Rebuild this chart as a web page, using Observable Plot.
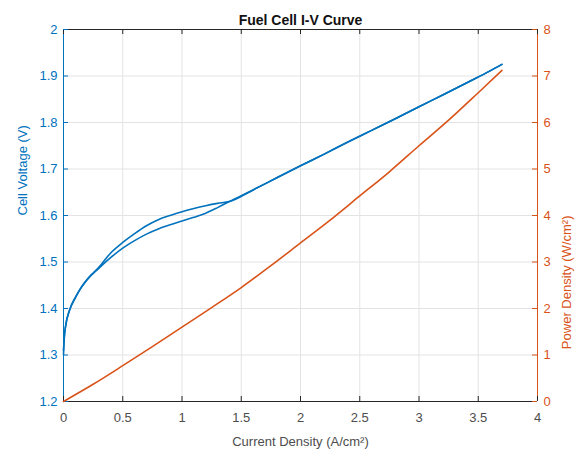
<!DOCTYPE html>
<html>
<head>
<meta charset="utf-8">
<script src="https://cdn.jsdelivr.net/npm/d3@7"></script>
<script src="https://cdn.jsdelivr.net/npm/@observablehq/plot@0.6"></script>
<style>
  html, body { margin: 0; padding: 0; background: #fff; }
  #chart svg { display: block; }
</style>
</head>
<body>
<div id="chart"></div>
<script>
// ---- data ----
const titleText = "Fuel Cell I-V Curve";
const xLabel = "Current Density (A/cm²)";
const leftLabel = "Cell Voltage (V)";
const rightLabel = "Power Density (W/cm²)";

// forward sweep (lower branch of the loop)
const upCurrent = [0, 0.005, 0.02, 0.05, 0.1, 0.15, 0.2, 0.3, 0.4, 0.5, 0.6, 0.7, 0.8, 0.9, 1.0, 1.1, 1.2, 1.3, 1.4, 1.6, 1.8, 2.0, 2.2, 2.4, 2.6, 2.8, 3.0, 3.2, 3.4, 3.6, 3.7];
const upVoltage = [1.30, 1.33, 1.365, 1.395, 1.423, 1.445, 1.462, 1.487, 1.51, 1.53, 1.546, 1.56, 1.571, 1.58, 1.588, 1.596, 1.605, 1.617, 1.63, 1.655, 1.681, 1.707, 1.732, 1.758, 1.783, 1.808, 1.834, 1.859, 1.885, 1.911, 1.925];
// reverse sweep (upper branch of the loop)
const downCurrent = [3.7, 3.6, 3.4, 3.2, 3.0, 2.8, 2.6, 2.4, 2.2, 2.0, 1.8, 1.6, 1.4, 1.3, 1.2, 1.1, 1.0, 0.9, 0.8, 0.7, 0.6, 0.5, 0.4, 0.3, 0.2, 0.15, 0.1, 0.05, 0.02, 0.005, 0];
const downVoltage = [1.925, 1.911, 1.885, 1.859, 1.834, 1.808, 1.783, 1.758, 1.732, 1.707, 1.681, 1.655, 1.63, 1.626, 1.621, 1.615, 1.608, 1.6, 1.591, 1.578, 1.561, 1.542, 1.52, 1.489, 1.463, 1.446, 1.424, 1.396, 1.366, 1.335, 1.31];

// power density curve
const powerCurrent = [0, 0.25, 0.5, 0.75, 1.0, 1.25, 1.5, 1.75, 2.0, 2.25, 2.5, 2.75, 3.0, 3.25, 3.5, 3.7];
const powerDensity = [0, 0.37, 0.77, 1.18, 1.6, 2.02, 2.45, 2.92, 3.41, 3.9, 4.42, 4.94, 5.5, 6.05, 6.64, 7.12];

// tick labels
const xTicks = [0, 0.5, 1, 1.5, 2, 2.5, 3, 3.5, 4];
const voltageTicks = [1.2, 1.3, 1.4, 1.5, 1.6, 1.7, 1.8, 1.9, 2];
const powerTicks = [0, 1, 2, 3, 4, 5, 6, 7, 8];

// ---- styling ----
const BLUE = "#0072BD";
const ORANGE = "#D95319";
const DARK = "#262626";
const GRID = "#e3e3e3";
const FONT = "'Liberation Sans', Arial, Helvetica, sans-serif";

const W = 576, H = 458;
const mL = 63, mR = 39, mT = 29, mB = 57;
const frameW = W - mL - mR, frameH = H - mT - mB;

// right axis (power 0..8) mapped onto the voltage scale (1.2..2)
const vMin = 1.2, vMax = 2, pMax = 8;
const pToV = p => vMin + p * (vMax - vMin) / pMax;

const up = upCurrent.map((c, i) => ({c, v: upVoltage[i]}));
const down = downCurrent.map((c, i) => ({c, v: downVoltage[i]}));
const power = powerCurrent.map((c, i) => ({c, p: powerDensity[i]}));
const fmt = d => String(+d.toFixed(2));

const chart = Plot.plot({
  width: W,
  height: H,
  marginLeft: mL,
  marginRight: mR,
  marginTop: mT,
  marginBottom: mB,
  style: {fontFamily: FONT, fontSize: "13px", background: "#fff"},
  x: {domain: [0, 4], label: null},
  y: {domain: [vMin, vMax], label: null},
  marks: [
    Plot.gridX(xTicks, {stroke: GRID, strokeOpacity: 1}),
    Plot.gridY(voltageTicks, {stroke: GRID, strokeOpacity: 1}),
    // frame lines
    Plot.ruleY([vMin, vMax], {stroke: DARK, strokeWidth: 1}),
    Plot.ruleX([0], {stroke: BLUE, strokeWidth: 1}),
    Plot.ruleX([4], {stroke: ORANGE, strokeWidth: 1}),
    // inward tick marks
    Plot.tickX(xTicks, {x: d => d, stroke: DARK, insetTop: frameH - 5}),
    Plot.tickX(xTicks, {x: d => d, stroke: DARK, insetBottom: frameH - 5}),
    Plot.tickY(voltageTicks, {y: d => d, stroke: BLUE, insetRight: frameW - 5}),
    Plot.tickY(powerTicks, {y: d => pToV(d), stroke: ORANGE, insetLeft: frameW - 5}),
    // axes (labels only)
    Plot.axisX(xTicks, {anchor: "bottom", tickSize: 0, tickPadding: 11, tickFormat: fmt, fill: "#4d4d4d", fontSize: 13}),
    Plot.axisY(voltageTicks, {anchor: "left", tickSize: 0, tickPadding: 6, tickFormat: fmt, fill: BLUE, fontSize: 13}),
    Plot.axisY(powerTicks.map(pToV), {anchor: "right", tickSize: 0, tickPadding: 6,
      tickFormat: v => fmt((v - vMin) * pMax / (vMax - vMin)), fill: ORANGE, fontSize: 13}),
    // data
    Plot.line(power, {x: "c", y: d => pToV(d.p), stroke: ORANGE, strokeWidth: 1.6, curve: "monotone-x"}),
    Plot.line(up, {x: "c", y: "v", stroke: BLUE, strokeWidth: 1.6, curve: "monotone-x"}),
    Plot.line(down, {x: "c", y: "v", stroke: BLUE, strokeWidth: 1.6, curve: "monotone-x"}),
    // titles
    Plot.text([titleText], {frameAnchor: "top", dy: -14, fontWeight: "bold", fontSize: 14, fill: "#111"}),
    Plot.text([xLabel], {frameAnchor: "bottom", dy: 44, fontSize: 13, fill: "#4d4d4d"}),
    Plot.text([leftLabel], {frameAnchor: "left", dx: -41, rotate: -90, fontSize: 13, fill: BLUE}),
    Plot.text([rightLabel], {frameAnchor: "right", dx: 29, rotate: -90, fontSize: 13, fill: ORANGE})
  ]
});
document.getElementById("chart").appendChild(chart);
</script>
</body>
</html>
